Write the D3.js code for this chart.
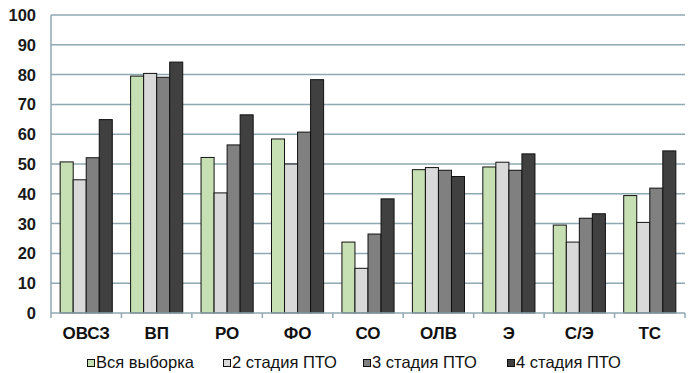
<!DOCTYPE html>
<html><head><meta charset="utf-8">
<script src="https://cdn.jsdelivr.net/npm/d3@7"></script>
<style>body{margin:0;background:#fff}svg{display:block}</style>
</head><body>
<svg id="c" width="692" height="373"></svg>
<script>
const categories = ["ОВСЗ","ВП","РО","ФО","СО","ОЛВ","Э","С/Э","ТС"];
const seriesNames = ["Вся выборка","2 стадия ПТО","3 стадия ПТО","4 стадия ПТО"];
const allSample = [50.7, 79.5, 52.2, 58.4, 23.8, 48.1, 49.0, 29.5, 39.4];
const stage2 = [44.7, 80.4, 40.3, 50.0, 15.0, 48.8, 50.6, 23.8, 30.4];
const stage3 = [52.1, 79.1, 56.4, 60.7, 26.5, 47.9, 47.9, 31.8, 41.9];
const stage4 = [64.9, 84.2, 66.5, 78.3, 38.3, 45.8, 53.4, 33.3, 54.4];
const yTicks = [0,10,20,30,40,50,60,70,80,90,100];
const colors = ["#c6e0b4","#d9d9d9","#808080","#404040"];

const series = [allSample, stage2, stage3, stage4];
const svg = d3.select("#c");
const x0 = 51, x1 = 685, yTop = 15, yBot = 313;
const x = d3.scaleBand().domain(categories).range([x0, x1]).paddingInner(0.26).paddingOuter(0.13);
const xs = d3.scaleBand().domain(d3.range(4)).range([0, x.bandwidth()]);
const y = d3.scaleLinear().domain([0,100]).range([yBot, yTop]);
const grid = "#8fa8b2";

// gridlines
svg.append("g").selectAll("line").data(yTicks.filter(d=>d>0)).join("line")
  .attr("x1", x0).attr("x2", x1).attr("y1", d=>y(d)).attr("y2", d=>y(d))
  .attr("stroke", grid).attr("stroke-width", 1.5);

// y labels
svg.append("g").selectAll("text").data(yTicks).join("text")
  .attr("x", 36).attr("y", d=>y(d)).attr("dy", "0.36em").attr("text-anchor","end")
  .attr("font-family","Liberation Sans, Arial, sans-serif").attr("font-size",16.5).attr("font-weight","bold")
  .attr("fill","#1a1a1a").text(d=>d);

// bars
const g = svg.append("g");
categories.forEach((c,i)=>{
  series.forEach((s,j)=>{
    g.append("rect")
      .attr("x", x(c)+xs(j)).attr("y", y(s[i]))
      .attr("width", xs.bandwidth()).attr("height", y(0)-y(s[i]))
      .attr("fill", colors[j]).attr("stroke","#111").attr("stroke-width",1);
  });
});

// axes lines
svg.append("line").attr("x1",x0).attr("x2",x0).attr("y1",yTop).attr("y2",yBot).attr("stroke",grid).attr("stroke-width",1.5);
svg.append("line").attr("x1",x0).attr("x2",x1).attr("y1",yBot).attr("y2",yBot).attr("stroke",grid).attr("stroke-width",1.5);
const step = (x1-x0)/categories.length;
svg.append("g").selectAll("line").data(d3.range(categories.length+1)).join("line")
  .attr("x1", d=>x0+d*step).attr("x2", d=>x0+d*step).attr("y1", yBot).attr("y2", yBot+5)
  .attr("stroke", grid).attr("stroke-width",1.5);

// x labels
svg.append("g").selectAll("text").data(categories).join("text")
  .attr("x", d=>x(d)+x.bandwidth()/2).attr("y", 339).attr("text-anchor","middle")
  .attr("font-family","Liberation Sans, Arial, sans-serif").attr("font-size",17).attr("font-weight","bold")
  .attr("fill","#111").text(d=>d);

// legend
const legX = [87, 223, 363, 507];
const leg = svg.append("g");
seriesNames.forEach((n,j)=>{
  leg.append("rect").attr("x", legX[j]+0.5).attr("y", 359.5).attr("width",7).attr("height",7)
    .attr("fill", colors[j]).attr("stroke","#111").attr("stroke-width",1);
  leg.append("text").attr("x", legX[j]+9).attr("y", 368)
    .attr("font-family","Liberation Sans, Arial, sans-serif").attr("font-size",16.5)
    .attr("fill","#111").text(n);
});
</script>
</body></html>
